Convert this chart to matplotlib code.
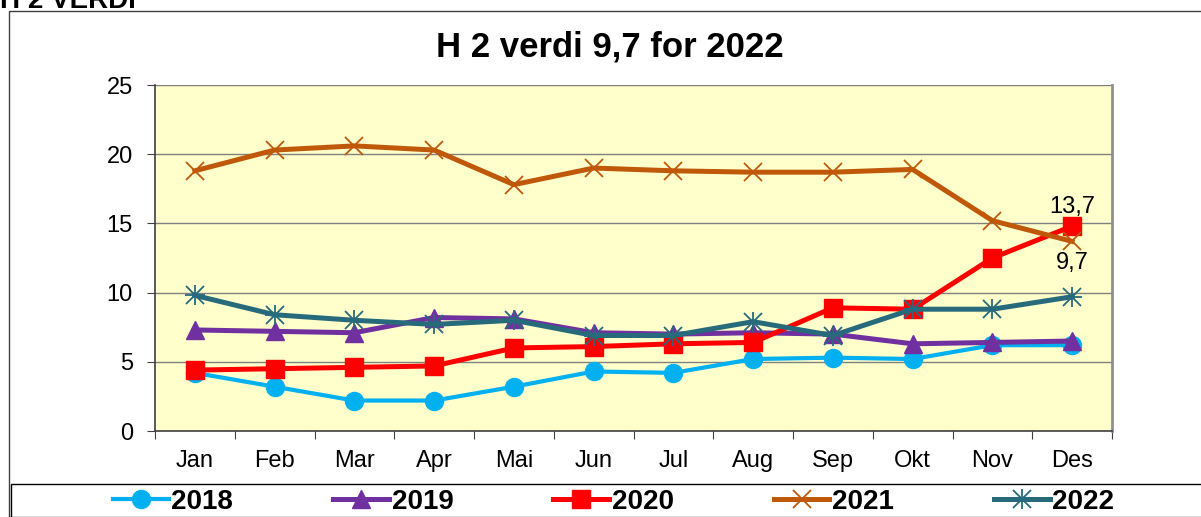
import numpy as np
import matplotlib.pyplot as plt
from matplotlib.patches import Rectangle
from matplotlib.lines import Line2D

plt.rcParams['font.family'] = ['Liberation Sans', 'DejaVu Sans']

# --- data ---
months = ["Jan", "Feb", "Mar", "Apr", "Mai", "Jun", "Jul", "Aug", "Sep", "Okt", "Nov", "Des"]
v2018 = [4.2, 3.2, 2.2, 2.2, 3.2, 4.3, 4.2, 5.2, 5.3, 5.2, 6.2, 6.2]
v2019 = [7.3, 7.2, 7.1, 8.2, 8.1, 7.1, 7.0, 7.1, 7.0, 6.3, 6.4, 6.5]
v2020 = [4.4, 4.5, 4.6, 4.7, 6.0, 6.1, 6.3, 6.4, 8.9, 8.8, 12.5, 14.8]
v2021 = [18.8, 20.3, 20.6, 20.3, 17.8, 19.0, 18.8, 18.7, 18.7, 18.9, 15.2, 13.7]
v2022 = [9.8, 8.4, 8.0, 7.7, 8.0, 6.9, 6.9, 7.9, 6.9, 8.8, 8.8, 9.7]
years = ["2018", "2019", "2020", "2021", "2022"]

fig = plt.figure(figsize=(12.01, 5.17), dpi=100)

# outer chart frame and legend box
fig.add_artist(Rectangle((9 / 1201, 0), 1.0, 506 / 517, transform=fig.transFigure,
                         fill=False, edgecolor="#404040", lw=1.0))
fig.add_artist(Rectangle((11 / 1201, -0.01), 1.0, 33 / 517 + 0.01, transform=fig.transFigure,
                         fill=False, edgecolor="black", lw=1.0))
# heading above the chart, cut at the top edge like the source
fig.text(0.0, 1 - 8 / 517, "H 2 VERDI", fontsize=20, fontweight="bold",
         va="baseline", ha="left")

ax = fig.add_axes([155 / 1201, 86 / 517, 957 / 1201, 346 / 517])
ax.set_facecolor("#FFFFCC")

x = np.arange(len(months))
styles = [
    (v2018, "#00B0F0", "o", 13, 3.0),
    (v2019, "#7030A0", "^", 13, 3.6),
    (v2020, "#FF0000", "s", 13, 3.6),
    (v2021, "#C0580A", "x", 13, 3.6),
    (v2022, "#276A7C", "x", 13, 3.6),
]
handles = []
for (vals, col, mk, ms, lw), yr in zip(styles, years):
    h, = ax.plot(x, vals, color=col, marker=mk, markersize=ms, lw=lw, label=yr,
                 markeredgecolor=col, markeredgewidth=1.3 if mk == "x" else 1.0)
    handles.append(h)
# 2022 uses a star-like marker
ax.plot(x, v2022, ls="none", marker="+", markersize=14, markeredgecolor="#276A7C",
        markeredgewidth=1.3)

ax.annotate("13,7", (x[-1], v2021[-1]), xytext=(0, 25), textcoords="offset points",
            ha="center", va="center", fontsize=17)
ax.annotate("9,7", (x[-1], v2022[-1]), xytext=(0, 24), textcoords="offset points",
            ha="center", va="center", fontsize=17)

ax.set_xlim(-0.5, 11.5)
ax.set_ylim(0, 25)
ax.set_yticks(np.arange(0, 26, 5))
ax.yaxis.grid(True, color="#808080", lw=1.0)
ax.set_axisbelow(True)
ax.set_xticks(np.arange(-0.5, 12, 1))
ax.set_xticklabels([])
ax.set_xticks(x, minor=True)
ax.set_xticklabels(months, minor=True)
ax.tick_params(axis="x", which="major", length=6, color="#404040")
ax.tick_params(axis="x", which="minor", length=0, pad=14, labelsize=17)
ax.tick_params(axis="y", length=6, color="#404040", labelsize=17, pad=10)
for s in ["left", "bottom"]:
    ax.spines[s].set_color("#404040")
    ax.spines[s].set_linewidth(1.2)
ax.spines["top"].set_visible(False)
ax.spines["right"].set_color("#909090")
ax.spines["right"].set_linewidth(2)

fig.text(610 / 1201, 1 - 47 / 517, "H 2 verdi 9,7 for 2022", fontsize=25,
         fontweight="bold", ha="center", va="center")

# legend handles incl. the 2022 star
h22 = (handles[4], Line2D([], [], ls="none", marker="+", markersize=14,
                           markeredgecolor="#276A7C", markeredgewidth=1.3))
leg_handles = handles[:4] + [h22]
fig.legend(leg_handles, years, loc="center", bbox_to_anchor=(0.511, 15 / 517), ncol=5,
           frameon=False, prop={"weight": "bold", "size": 20}, handlelength=2.0,
           handletextpad=0.1, columnspacing=3.6, borderaxespad=0)

fig.savefig("out.png", dpi=100)
